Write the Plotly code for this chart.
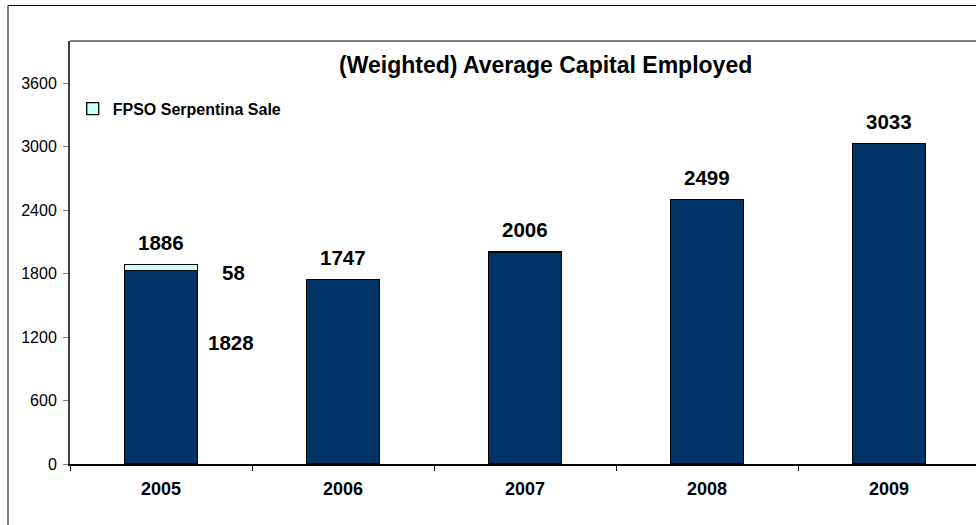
import plotly.graph_objects as go

years = ["2005", "2006", "2007", "2008", "2009"]
base_vals = [1828, 1747, 2006, 2499, 3033]
fpso_vals = [58, None, None, None, None]
y_ticks = [0, 600, 1200, 1800, 2400, 3000, 3600]

NAVY = "#003366"
CYAN = "#CCFFFF"
FONT = "Liberation Sans, Arial, sans-serif"

fig = go.Figure()
fig.add_trace(go.Bar(
    x=years, y=base_vals, width=0.4, name="Base",
    marker=dict(color=NAVY, line=dict(color="black", width=1.3)),
    showlegend=False,
))
fig.add_trace(go.Bar(
    x=years, y=fpso_vals, width=0.4, name="FPSO Serpentina Sale",
    marker=dict(color=CYAN, line=dict(color="black", width=1.3)),
    showlegend=True,
))

totals = [b + (f or 0) for b, f in zip(base_vals, fpso_vals)]
annotations = []
for i, t in enumerate(totals):
    annotations.append(dict(x=i, y=t, xref="x", yref="y", text=f"<b>{t}</b>",
                            showarrow=False, yanchor="middle", yshift=22,
                            font=dict(family=FONT, size=20.5, color="black")))
# component labels for 2005
annotations.append(dict(x=0, y=totals[0], xref="x", yref="y",
                        text=f"<b>{fpso_vals[0]}</b>", showarrow=False,
                        yanchor="middle", xshift=72, yshift=-7.5,
                        font=dict(family=FONT, size=20.5, color="black")))
annotations.append(dict(x=0, y=base_vals[0], xref="x", yref="y",
                        text=f"<b>{base_vals[0]}</b>", showarrow=False,
                        yanchor="middle", xshift=70, yshift=-72,
                        font=dict(family=FONT, size=20.5, color="black")))
annotations.append(dict(x=0.525, y=0.943, xref="paper", yref="paper",
                        text="<b>(Weighted) Average Capital Employed</b>",
                        showarrow=False, xanchor="center", yanchor="middle",
                        font=dict(family=FONT, size=23, color="black")))

fig.update_layout(
    width=976, height=525,
    margin=dict(l=70, r=0, t=41, b=61),
    paper_bgcolor="white", plot_bgcolor="white",
    barmode="stack", bargap=0.6,
    font=dict(family=FONT, color="black"),
    annotations=annotations,
    legend=dict(x=0.003, y=0.88, xanchor="left", yanchor="top",
                bgcolor="rgba(0,0,0,0)",
                font=dict(family=FONT, size=16, color="black",
                          weight="bold")),
    shapes=[
        dict(type="rect", xref="paper", yref="paper",
             x0=(8 - 70) / 906, x1=1.05, y0=-0.3, y1=(464 - 5.5) / 423,
             line=dict(color="black", width=1), fillcolor="rgba(0,0,0,0)",
             layer="below"),
        dict(type="line", xref="paper", yref="paper", x0=0, x1=1.05,
             y0=1, y1=1, line=dict(color="#808080", width=2)),
    ],
)
fig.update_xaxes(
    type="category", range=[-0.5, 4.478],
    showline=True, linecolor="black", linewidth=1.5,
    ticks="outside", tickson="boundaries", ticklen=5, tickcolor="black",
    showgrid=False, zeroline=False, ticklabelstandoff=8,
    tickfont=dict(family=FONT, size=18, color="black", weight="bold"),
)
fig.update_yaxes(
    range=[0, 4000], tickmode="array", tickvals=y_ticks,
    ticktext=[str(v) for v in y_ticks],
    showline=True, linecolor="#404040", linewidth=2,
    ticks="outside", ticklen=5, tickcolor="#808080",
    showgrid=False, zeroline=False, ticklabelstandoff=3,
    tickfont=dict(family=FONT, size=16, color="black"),
)

fig.write_html("out.html")
